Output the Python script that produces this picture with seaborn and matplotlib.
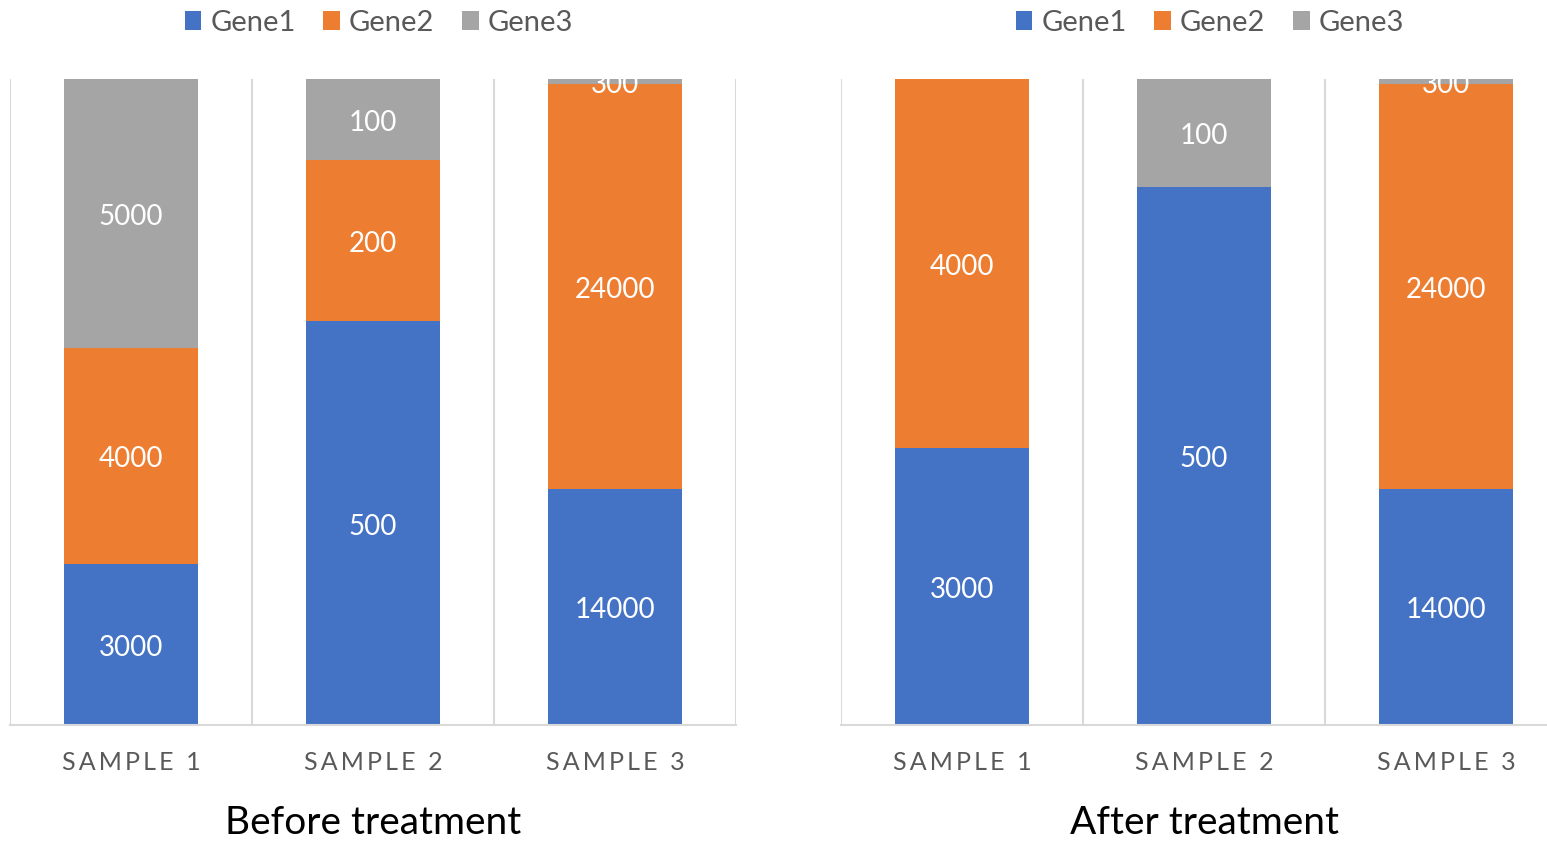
import numpy as np
import pandas as pd
import matplotlib
matplotlib.use("Agg")
import matplotlib.pyplot as plt
import seaborn as sns
from matplotlib.patches import Patch

# ---- data -------------------------------------------------------------
samples = ["SAMPLE 1", "SAMPLE 2", "SAMPLE 3"]
genes = ["Gene1", "Gene2", "Gene3"]

before_gene1 = [3000, 500, 14000]
before_gene2 = [4000, 200, 24000]
before_gene3 = [5000, 100, 300]

after_gene1 = [3000, 500, 14000]
after_gene2 = [4000, 0, 24000]
after_gene3 = [0, 100, 300]

panel_titles = ["Before treatment", "After treatment"]

# ---- style ------------------------------------------------------------
gene_colors = ["#4472C4", "#ED7D31", "#A5A5A5"]
grid_color = "#D9D9D9"
text_gray = "#595959"

sns.set_theme(style="white")
plt.rcParams["font.family"] = ["Lato", "DejaVu Sans"]

W, H = 1547, 842
fig = plt.figure(figsize=(W / 100, H / 100), dpi=100)

ax_w = 726 / W
ax_h = 646 / H
ax_bottom = (H - 725) / H
ax_left = fig.add_axes([10 / W, ax_bottom, ax_w, ax_h])
ax_right = fig.add_axes([841 / W, ax_bottom, ax_w, ax_h])


def spaced(label):
    # widen the letter spacing of the category labels
    return "\u2009".join(label)


def draw_panel(ax, series, title):
    vals = np.array(series, dtype=float)          # genes x samples
    shares = vals / vals.sum(axis=0)               # 100 % stacking
    bottoms = np.zeros(len(samples))
    for g, gene in enumerate(genes):
        df = pd.DataFrame({"sample": samples, "share": shares[g]})
        sns.barplot(data=df, x="sample", y="share", order=samples,
                    color=gene_colors[g], saturation=1, width=0.55,
                    bottom=bottoms, linewidth=0, errorbar=None, ax=ax)
        for i in range(len(samples)):
            if vals[g, i] > 0:
                ax.annotate(f"{int(vals[g, i])}",
                            xy=(i, bottoms[i] + shares[g, i] / 2),
                            xytext=(0, -2.5), textcoords="offset points",
                            ha="center", va="center", color="white",
                            fontsize=20, annotation_clip=False, clip_on=True)
        bottoms = bottoms + shares[g]

    ax.set_xlim(-0.5, len(samples) - 0.5)
    ax.set_ylim(0, 1)
    ax.set_yticks([])
    ax.set_xlabel("")
    ax.set_ylabel("")
    for sep in np.arange(-0.5, len(samples), 1.0):
        ax.axvline(sep, color=grid_color, lw=1.5, zorder=0)
    for side in ["top", "right", "left"]:
        ax.spines[side].set_visible(False)
    ax.spines["bottom"].set_color(grid_color)
    ax.spines["bottom"].set_linewidth(1.5)
    ax.set_xticks(range(len(samples)))
    ax.set_xticklabels([spaced(s) for s in samples], fontsize=18, color=text_gray)
    ax.tick_params(axis="x", length=0, pad=19)

    ax.text(0.5, -0.168, title, transform=ax.transAxes, ha="center",
            va="baseline", fontsize=28, color="black")

    handles = [Patch(facecolor=c, edgecolor="none") for c in gene_colors]
    ax.legend(handles, genes, loc="center", bbox_to_anchor=(0.508, 1.087),
              ncol=3, frameon=False, fontsize=21, labelcolor=text_gray,
              handlelength=0.58, handleheight=0.58, handletextpad=0.3,
              columnspacing=0.95, borderaxespad=0)


draw_panel(ax_left, [before_gene1, before_gene2, before_gene3], panel_titles[0])
draw_panel(ax_right, [after_gene1, after_gene2, after_gene3], panel_titles[1])

fig.savefig("out.png", dpi=100)
